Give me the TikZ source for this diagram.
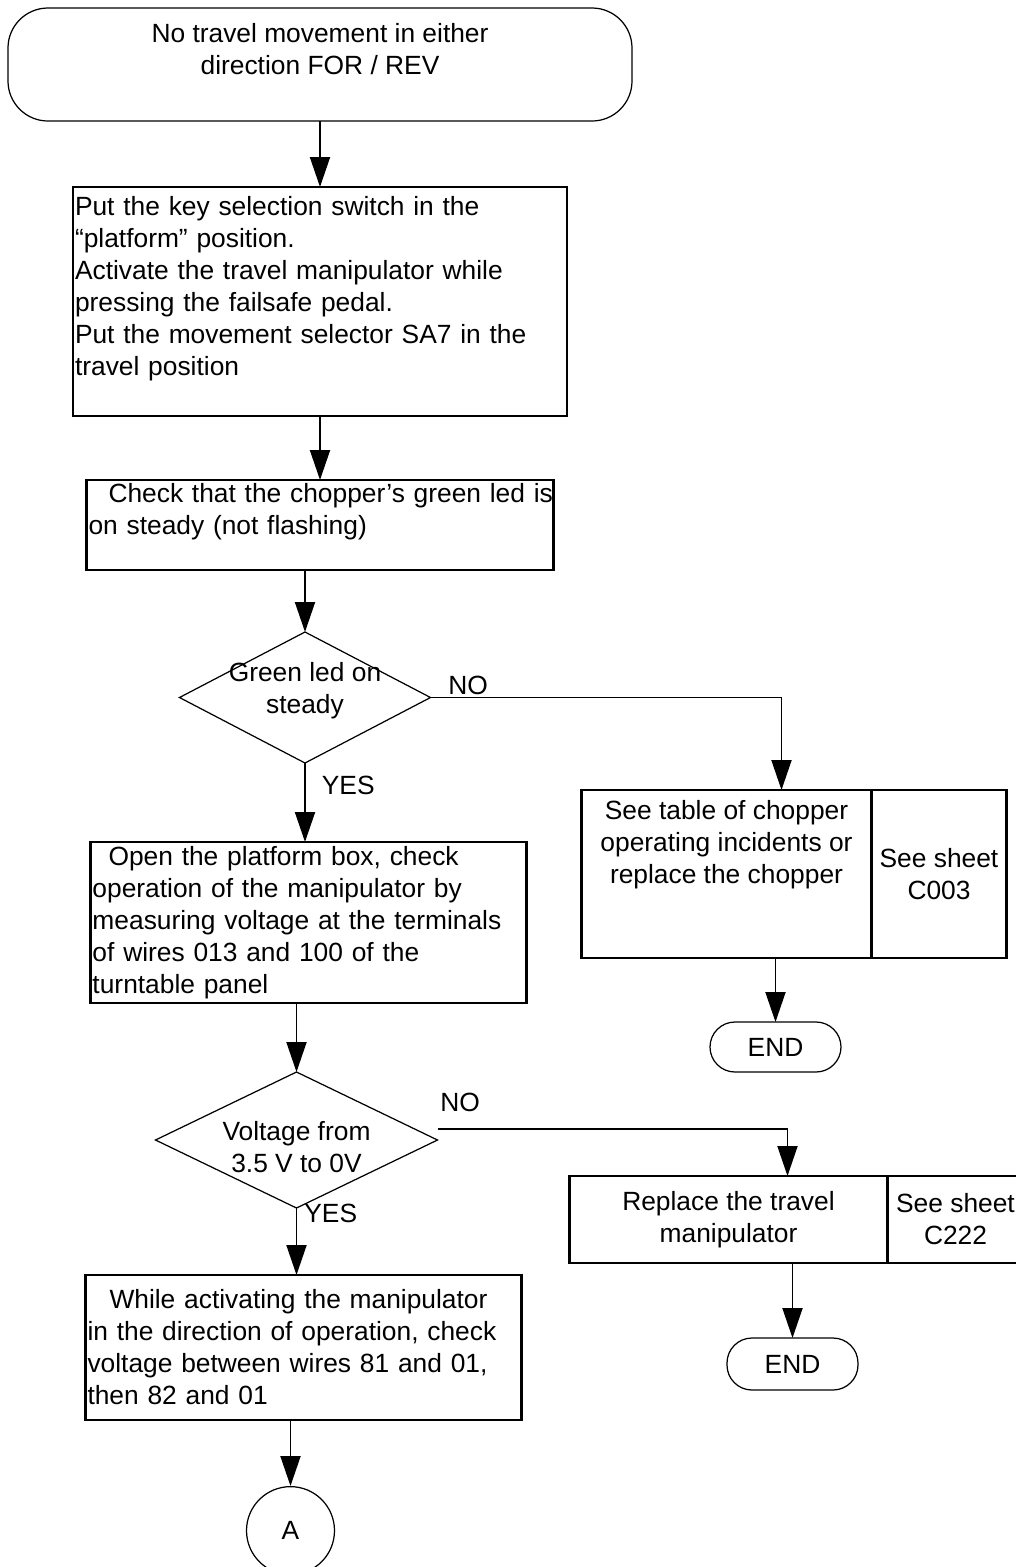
\documentclass[tikz,border=0pt]{standalone}
\usepackage{fontspec}
\setmainfont{Liberation Sans}
\usetikzlibrary{positioning, arrows.meta, shapes.geometric}

\begin{document}
\begin{tikzpicture}[
    font=\fontsize{15}{18.2}\selectfont,
    node distance=1.32cm,
    box/.style={
        rectangle,
        draw,
        line width=1.3pt,
        outer sep=0pt,
        inner xsep=0.04cm,
        inner ysep=0pt,
        align=left
    },
    sidebox/.style={
        rectangle,
        draw,
        line width=1.3pt,
        outer sep=0pt,
        inner sep=0.05cm,
        align=center
    },
    terminal/.style={
        rectangle,
        rounded corners=#1,
        draw,
        line width=0.7pt,
        outer sep=0pt,
        inner sep=0.05cm,
        align=center
    },
    decision/.style={
        diamond,
        draw,
        line width=0.7pt,
        outer sep=0pt,
        inner sep=0pt
    },
    lbl/.style={
        inner sep=0.05cm
    },
    arrow/.style={
        -{Triangle[length=0.6cm, width=0.4cm]},
        line width=1.1pt
    }
]
\path[use as bounding box] (0,0) rectangle (20.32,-31.34);
\clip (0,0) rectangle (20.32,-31.34);

\node[terminal=0.8cm, minimum width=12.48cm, minimum height=2.26cm] (fault) at (6.4,-1.29)
{No travel movement in either\\direction FOR / REV\\\mbox{}};

\node[box, below=of fault, minimum width=9.88cm, minimum height=4.58cm, text width=9.8cm] (setup)
{Put the key selection switch in the\\“platform” position.\\Activate the travel manipulator while\\pressing the failsafe pedal.\\Put the movement selector SA7 in the\\travel position\\\mbox{}};

\node[box, below=1.28cm of setup, minimum width=9.34cm, minimum height=1.8cm, text width=9.26cm] (ledcheck)
{\mbox{\hspace*{0.4cm}Check that the chopper’s green led is}\\on steady (not flashing)\\\mbox{}};

\node[decision, below=1.24cm of ledcheck, xshift=-0.3cm, minimum width=5.02cm, minimum height=2.62cm,
    label={[align=center, yshift=0.13cm]center:Green led on\\steady}] (ledok) {};

\node[box, below=1.58cm of ledok, xshift=0.07cm, minimum width=8.72cm, minimum height=3.22cm, text width=8.64cm] (voltcheck)
{\hspace*{0.32cm}Open the platform box, check\\operation of the manipulator by\\measuring voltage at the terminals\\of wires 013 and 100 of the\\turntable panel};

\node[decision, below=1.38cm of voltcheck, xshift=-0.24cm, minimum width=5.64cm, minimum height=2.72cm,
    label={[align=center, yshift=-0.14cm]center:Voltage from\\3.5 V to 0V}] (voltok) {};

\node[box, below=1.34cm of voltok, xshift=0.14cm, minimum width=8.72cm, minimum height=2.9cm, text width=8.64cm] (wirecheck)
{\hspace*{0.44cm}While activating the manipulator\\in the direction of operation, check\\voltage between wires 81 and 01,\\then 82 and 01};

\node[circle, draw, line width=0.7pt, minimum size=1.76cm, below=1.32cm of wirecheck, xshift=-0.26cm] (connA) {A};

% right hand branches
\node[sidebox, right=3.02cm of ledok, yshift=-3.53cm, minimum width=5.8cm, minimum height=3.36cm] (choppertab)
{See table of chopper\\operating incidents or\\replace the chopper\\\mbox{}\\\mbox{}};
\node[sidebox, right=0cm of choppertab, minimum width=2.7cm, minimum height=3.36cm] (sheetA) {See sheet\\C003};
\node[terminal=0.5cm, below=1.28cm of choppertab, xshift=0.98cm, minimum width=2.62cm, minimum height=1cm] (endA) {END};

\node[sidebox, right=2.64cm of voltok, yshift=-1.59cm, minimum width=6.36cm, minimum height=1.74cm] (replace)
{Replace the travel\\manipulator};
\node[sidebox, right=0cm of replace, minimum width=2.72cm, minimum height=1.74cm] (sheetB) {See sheet\\C222};
\node[terminal=0.5cm, below=1.5cm of replace, xshift=1.28cm, minimum width=2.62cm, minimum height=1.04cm] (endB) {END};

\node[lbl, anchor=south west, xshift=0.3cm] (noA) at (ledok.east) {NO};
\node[lbl, anchor=north west, xshift=0.28cm, yshift=-0.2cm] (yesA) at (ledok.south) {YES};
\node[lbl, anchor=south west, yshift=0.51cm] (noB) at (voltok.east) {NO};
\node[lbl, anchor=west, xshift=0.1cm, yshift=-0.1cm] (yesB) at (voltok.south) {YES};

\draw[arrow] (fault) -- (fault |- setup.north);
\draw[arrow] (setup) -- (setup |- ledcheck.north);
\draw[arrow] (ledcheck.south -| ledok) -- (ledok);
\draw[arrow] (ledok) -- (ledok |- voltcheck.north);
\draw[arrow] (voltcheck.south -| voltok) -- (voltok);
\draw[arrow] (voltok) -- (voltok |- wirecheck.north);
\draw[arrow] (wirecheck.south -| connA) -- (connA);
\draw[arrow] (ledok.east) -| ([xshift=1.1cm]choppertab.north);
\draw[arrow] ([yshift=0.22cm]voltok.east) -| ([xshift=1.18cm]replace.north);
\draw[arrow] (choppertab.south -| endA) -- (endA);
\draw[arrow] (replace.south -| endB) -- (endB);
\end{tikzpicture}
\end{document}
